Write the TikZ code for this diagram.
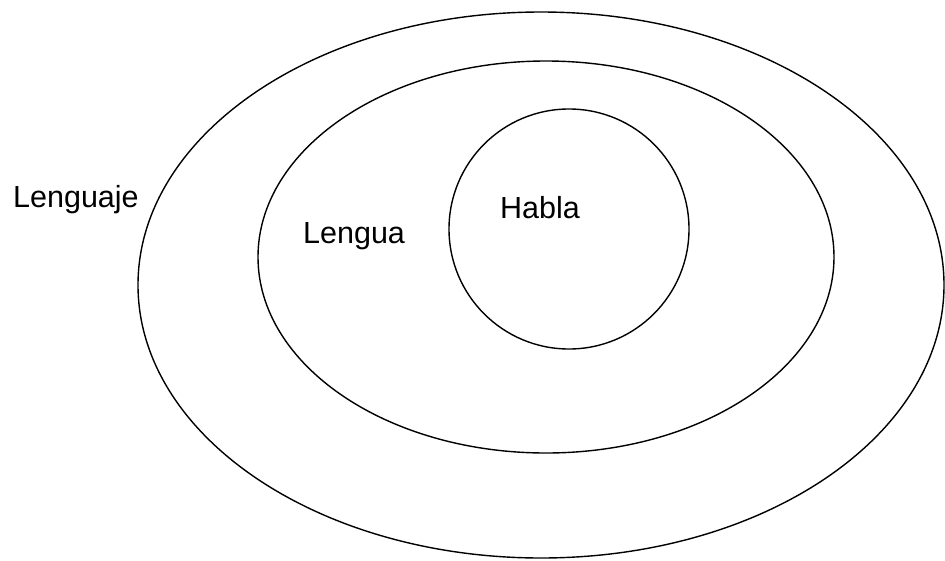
\documentclass[tikz,border=0pt]{standalone}
\usepackage{fontspec}
\setmainfont{Liberation Sans}
\begin{document}
\begin{tikzpicture}[x=1pt,y=-1pt,
  ring/.style={draw=black,line width=1.4pt},
  lbl/.style={anchor=base west,inner sep=0pt,font=\fontsize{30.5}{36}\selectfont}]
\useasboundingbox (0,0) rectangle (945,560);
\draw[ring] (541,285) ellipse [x radius=403, y radius=273];
\draw[ring] (546,257) ellipse [x radius=288, y radius=196];
\draw[ring] (569,229) circle [radius=120];
\node[lbl] (lenguaje) at (13,207) {Lenguaje};
\node[lbl] (lengua) at (303,243) {Lengua};
\node[lbl] (habla) at (500,218) {Habla};
\end{tikzpicture}
\end{document}
